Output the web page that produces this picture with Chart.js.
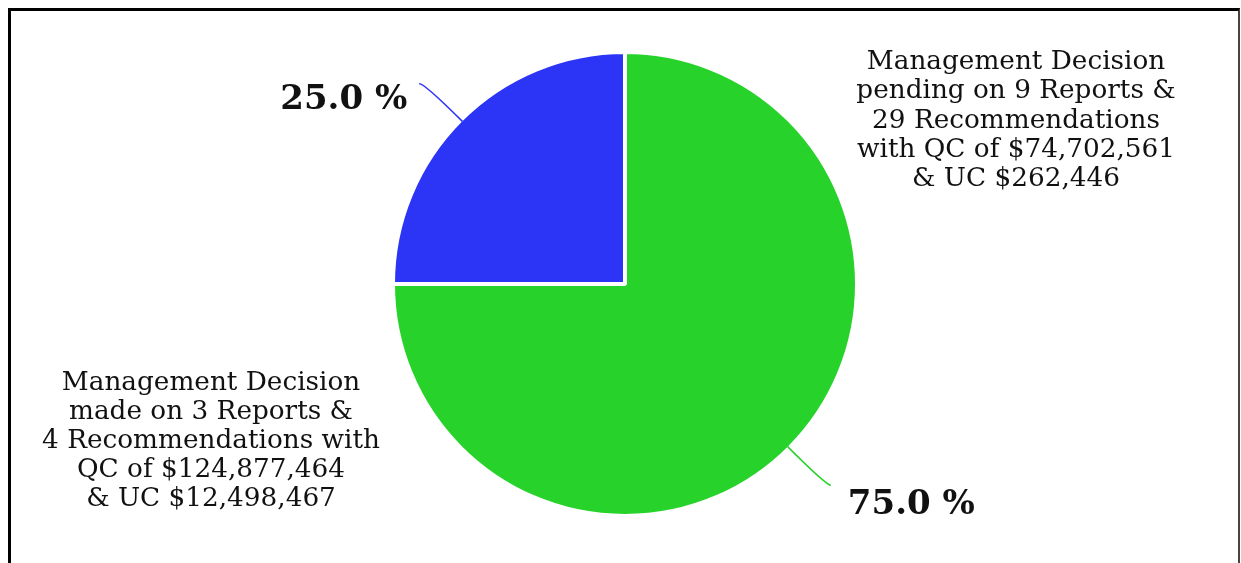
<!DOCTYPE html>
<html><head><meta charset="utf-8">
<script src="https://cdn.jsdelivr.net/npm/chart.js@4/dist/chart.umd.min.js"></script>
<style>
html,body{margin:0;padding:0;background:#fff;}
#wrap{position:relative;width:1241px;height:563px;overflow:hidden;background:#fff;}
#frame{position:absolute;left:8px;top:8px;width:1232px;height:620px;border-left:3px solid #000;border-top:3px solid #000;border-right:2px solid #444;box-sizing:border-box;}
canvas{position:absolute;left:0;top:0;}
</style></head>
<body><div id="wrap"><div id="frame"></div><canvas id="c" width="1241" height="563"></canvas></div>
<script>
// ---- data ----
const categories = ["Management Decision pending", "Management Decision made"];
const values = [75, 25];
const percentLabels = ["75.0 %", "25.0 %"];
const pendingText = ["Management Decision", "pending on 9 Reports &", "29 Recommendations", "with QC of $74,702,561", "& UC $262,446"];
const madeText = ["Management Decision", "made on 3 Reports &", "4 Recommendations with", "QC of $124,877,464", "& UC $12,498,467"];
const colors = ["#27d32a", "#2c34f6"];

const labelPlugin = {
  id: 'labelPlugin',
  afterDatasetsDraw(chart) {
    const ctx = chart.ctx;
    const meta = chart.getDatasetMeta(0);
    ctx.save();
    meta.data.forEach((arc, i) => {
      const p = arc.getProps(['x','y','startAngle','endAngle','outerRadius'], true);
      const mid = (p.startAngle + p.endAngle) / 2;
      const r0 = p.outerRadius - 2;
      const r1 = p.outerRadius + 52;
      const x0 = p.x + Math.cos(mid) * r0, y0 = p.y + Math.sin(mid) * r0;
      const x1 = p.x + Math.cos(mid) * r1, y1 = p.y + Math.sin(mid) * r1;
      const dir = Math.cos(mid) >= 0 ? 1 : -1;
      const x2 = x1 + dir * 5, y2 = y1 + 0.5;
      ctx.strokeStyle = colors[i];
      ctx.lineWidth = 1.5;
      ctx.beginPath();
      ctx.moveTo(x0, y0);
      ctx.quadraticCurveTo(x1, y1, x2, y2);
      ctx.stroke();
      ctx.fillStyle = '#111';
      ctx.font = 'bold 34px "DejaVu Serif"';
      ctx.textBaseline = 'alphabetic';
      if (dir > 0) { ctx.textAlign = 'left'; ctx.fillText(percentLabels[i], x2 + 17, y2 + 29); }
      else { ctx.textAlign = 'right'; ctx.fillText(percentLabels[i], x2 - 12, y2 + 25); }
    });
    ctx.font = '26.3px "DejaVu Serif"';
    ctx.textAlign = 'center';
    ctx.fillStyle = '#111';
    pendingText.forEach((t, k) => ctx.fillText(t, 1016, 69 + k * 29.3));
    madeText.forEach((t, k) => ctx.fillText(t, 211, 390 + k * 29.1));
    ctx.restore();
  }
};

new Chart(document.getElementById('c'), {
  type: 'pie',
  data: {
    labels: categories,
    datasets: [{ data: values, backgroundColor: colors, borderColor: '#ffffff', borderWidth: 4 }]
  },
  options: {
    responsive: false,
    animation: false,
    layout: { padding: { top: 50, bottom: 45, left: 9, right: 0 } },
    plugins: { legend: { display: false }, tooltip: { enabled: false } }
  },
  plugins: [labelPlugin]
});
</script>
</body></html>
